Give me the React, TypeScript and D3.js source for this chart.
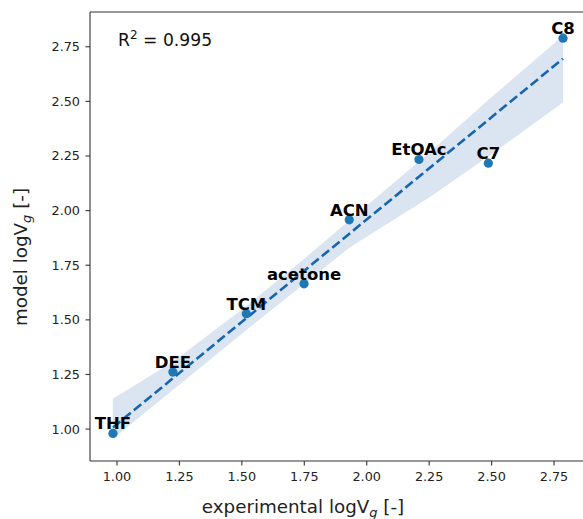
import React from "react";
import * as d3 from "d3";

const names = ["THF", "DEE", "TCM", "acetone", "ACN", "EtOAc", "C7", "C8"];
const experimental = [0.984, 1.224, 1.518, 1.749, 1.93, 2.209, 2.487, 2.786];
const model = [0.98, 1.261, 1.528, 1.665, 1.958, 2.234, 2.217, 2.789];

const bandX = [0.983, 1.22, 1.52, 1.75, 1.93, 2.25, 2.49, 2.786];
const bandLower = [0.955, 1.175, 1.455, 1.665, 1.83, 2.06, 2.25, 2.495];
const bandUpper = [1.139, 1.305, 1.565, 1.78, 1.955, 2.265, 2.51, 2.8];

const xTicks = [1.0, 1.25, 1.5, 1.75, 2.0, 2.25, 2.5, 2.75];
const yTicks = [1.0, 1.25, 1.5, 1.75, 2.0, 2.25, 2.5, 2.75];
const r2Text = "0.995";

const W = 583;
const H = 519;
const FONT = "DejaVu Sans, Verdana, sans-serif";

export default function App() {
  const x = d3.scaleLinear().domain([0.892, 2.87]).range([90, 584]);
  const y = d3.scaleLinear().domain([0.854, 2.909]).range([461, 12]);

  // least squares fit
  const mx = d3.mean(experimental) as number;
  const my = d3.mean(model) as number;
  let sxy = 0;
  let sxx = 0;
  experimental.forEach((v, i) => {
    sxy += (v - mx) * (model[i] - my);
    sxx += (v - mx) * (v - mx);
  });
  const slope = sxy / sxx;
  const intercept = my - slope * mx;
  const xMin = d3.min(experimental) as number;
  const xMax = d3.max(experimental) as number;
  const fitLine = d3
    .line<number>()
    .x((d) => x(d))
    .y((d) => y(intercept + slope * d))([xMin, xMax]);

  const bandData = bandX.map((v, i) => ({ x: v, lo: bandLower[i], hi: bandUpper[i] }));
  const area = d3
    .area<{ x: number; lo: number; hi: number }>()
    .x((d) => x(d.x))
    .y0((d) => y(d.lo))
    .y1((d) => y(d.hi))(bandData);

  const left = 90;
  const top = 12;
  const bottom = 461;
  const right = 584;

  return (
    <svg
      width={W}
      height={H}
      style={{ position: "absolute", left: 0, top: 0, background: "#fff" }}
      fontFamily={FONT}
    >
      <rect x={0} y={0} width={W} height={H} fill="#fff" />
      <path d={area || ""} fill="#dbe4f1" stroke="none" />
      <path
        d={fitLine || ""}
        fill="none"
        stroke="#1565b0"
        strokeWidth={2.6}
        strokeDasharray="9.5,4"
      />
      {experimental.map((v, i) => (
        <circle key={"p" + i} cx={x(v)} cy={y(model[i])} r={4.6} fill="#1f77b4" />
      ))}
      {experimental.map((v, i) => (
        <text
          key={"l" + i}
          x={x(v)}
          y={y(model[i]) - 4}
          textAnchor="middle"
          fontWeight="bold"
          fontSize={16.5}
          fill="#000"
        >
          {names[i]}
        </text>
      ))}

      {/* spines */}
      <line x1={left} x2={left} y1={top} y2={bottom} stroke="#333" strokeWidth={1.1} />
      <line x1={left} x2={right} y1={bottom} y2={bottom} stroke="#333" strokeWidth={1.1} />
      <line x1={left} x2={right} y1={top} y2={top} stroke="#333" strokeWidth={1.1} />

      {xTicks.map((t) => (
        <g key={"xt" + t}>
          <line x1={x(t)} x2={x(t)} y1={bottom} y2={bottom + 4.5} stroke="#333" strokeWidth={1.1} />
          <text x={x(t)} y={481} textAnchor="middle" fontSize={12.8} fill="#222">
            {t.toFixed(2)}
          </text>
        </g>
      ))}
      {yTicks.map((t) => (
        <g key={"yt" + t}>
          <line x1={left - 4.5} x2={left} y1={y(t)} y2={y(t)} stroke="#333" strokeWidth={1.1} />
          <text x={80} y={y(t) + 4.5} textAnchor="end" fontSize={12.8} fill="#222">
            {t.toFixed(2)}
          </text>
        </g>
      ))}

      <text x={303} y={513} textAnchor="middle" fontSize={18.3} fill="#222">
        experimental logV
        <tspan fontStyle="italic" fontSize={13} dy={4}>
          g
        </tspan>
        <tspan dy={-4}> [-]</tspan>
      </text>
      <text
        transform={`translate(27,257) rotate(-90)`}
        textAnchor="middle"
        fontSize={18.3}
        fill="#222"
      >
        model logV
        <tspan fontStyle="italic" fontSize={13} dy={4}>
          g
        </tspan>
        <tspan dy={-4}> [-]</tspan>
      </text>

      <text x={118} y={46} fontSize={17.2} fill="#111">
        R
        <tspan fontSize={12} dy={-7}>
          2
        </tspan>
        <tspan dy={7}> = {r2Text}</tspan>
      </text>
    </svg>
  );
}
